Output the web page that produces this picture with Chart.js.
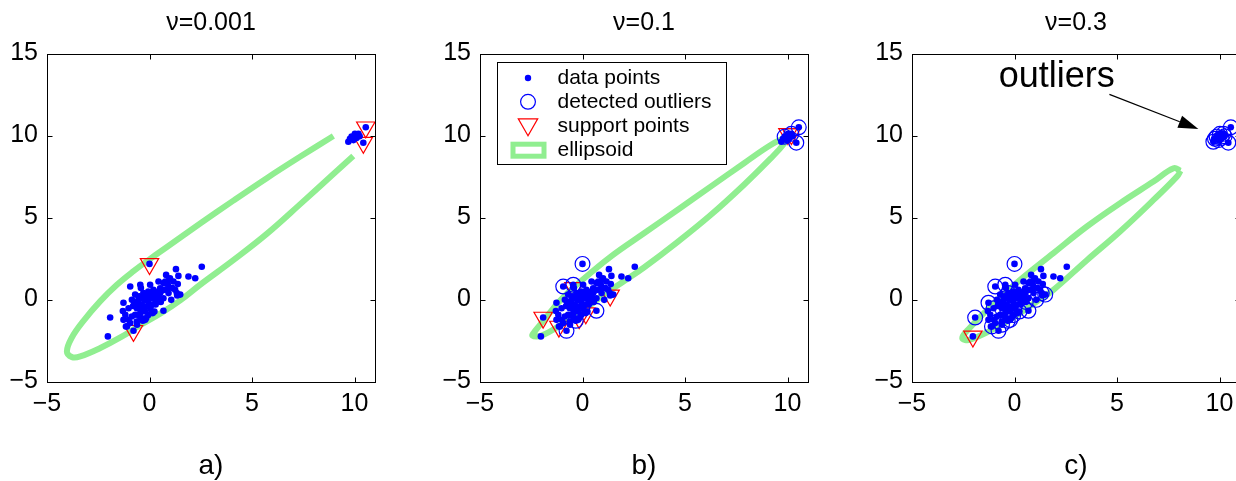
<!DOCTYPE html>
<html><head><meta charset="utf-8">
<script src="https://cdn.jsdelivr.net/npm/chart.js@4"></script>
<style>
html,body{margin:0;padding:0;background:#fff;overflow:hidden;width:1236px;height:481px;position:relative;}
canvas{position:absolute;top:0;}
</style></head><body>
<canvas id="ca" width="420" height="481" style="left:1px"></canvas>
<canvas id="cb" width="420" height="481" style="left:433.5px"></canvas>
<canvas id="cc" width="420" height="481" style="left:866px"></canvas>
<script>
// ---- texts / ticks ----
const panelTitles = ['ν=0.001', 'ν=0.1', 'ν=0.3'];
const panelLabels = ['a)', 'b)', 'c)'];
const xTicks = [-5, 0, 5, 10];
const yTicks = [-5, 0, 5, 10, 15];
const xTickLabels = ['−5', '0', '5', '10'];
const yTickLabels = ['−5', '0', '5', '10', '15'];
const xRange = [-5, 11];
const yRange = [-5, 15];
const legendLabels = ['data points', 'detected outliers', 'support points', 'ellipsoid'];
const annotationText = 'outliers';
const annotationTextPos = [2.06, 12.94];
const annotationArrow = [[4.63, 12.51], [8.97, 10.4]];

// ---- data points (same sample in every panel) ----
const dataX = [0.0, 2.55, 1.29, 1.9, 2.23, 1.41, 0.81, 0.96, 0.68, 0.89, 1.38, 1.12, 1.33, 0.77, 0.52, 1.06, 0.68, 0.24, -0.94, -0.45,
  0.03, -1.92, -2.03, -0.78, -0.7, -0.86, -0.54, -0.3, -0.06, 0.19, -0.22, 0.03, 0.27, 0.43, -0.37, -0.13, 0.11, -0.62, -1.02, -1.18,
  -1.02, -0.86, -0.7, -0.45, -0.22, -0.06, -0.94, -0.62, -0.37, -1.27, -1.1, 0.77, 0.44, 0.52, 0.93, 0.68, 1.17, 1.25, -1.27, -0.61,
  -0.21, 1.5, -0.33, -0.16, 0.16, -1.15, -0.42, 1.35, -0.5, -0.15, 0.1, -0.35, -0.6, -0.25, 0.3, 0.55, 0.2, -0.8, 0.62, 0.95,
  -0.05, -0.5, 0.35, -1.3, 1.0, -0.4, 0.05, -0.75, 0.45, -0.1,
  9.7, 9.78, 9.86, 9.95, 10.02, 10.1, 10.19, 10.25, 10.55, 10.43];
const dataY = [2.17, 2.0, 1.85, 1.4, 1.3, 1.44, 1.5, 1.2, 1.0, 0.93, 0.94, 0.7, 0.39, 0.6, 0.69, -0.02, -0.69, -0.73, 0.79, 0.9,
  0.9, -1.1, -2.25, -1.91, 0.3, -0.02, -0.02, 0.39, 0.49, 0.59, -0.02, 0.08, -0.02, 0.18, -0.33, -0.43, -0.33, -0.53, -0.53, -0.93,
  -1.24, -1.04, -0.93, -0.83, -0.73, -0.95, -1.44, -1.34, -1.14, -1.24, -1.64, 1.1, 1.1, 0.39, 0.39, 0.08, 1.1, 0.59, -0.2, -1.54,
  -1.24, 0.3, -1.3, -1.13, -0.83, -1.65, 0.7, 0.25, 0.2, 0.25, 0.3, 0.05, -0.25, -0.5, -0.3, -0.15, 0.15, -0.4, 0.55, 0.75,
  -0.2, -1.0, 0.45, -0.7, 1.3, -0.6, -0.6, -0.15, 0.0, 0.1,
  9.62, 9.8, 9.93, 9.72, 10.1, 9.85, 10.1, 9.95, 10.5, 9.56];

// ---- panel a ----
const supportAX = [0.0, -0.78, 10.55, 10.43];
const supportAY = [2.17, -1.91, 10.5, 9.56];
const ellipseAX = [8.97, 7.34, 5.72, 4.09, 2.47, 0.85, 0.0, -0.78, -1.59, -2.4, -3.22, -3.78, -4.03, -3.78, -3.38, -2.4, -1.4, -0.5, 0.6, 1.5, 2.47, 4.09, 5.72, 7.34, 8.97, 9.94];
const ellipseAY = [9.97, 8.7, 7.4, 6.03, 4.63, 3.2, 2.45, 1.73, 0.9, -0.1, -1.3, -2.3, -3.17, -3.51, -3.47, -2.96, -2.3, -1.6, -0.8, -0.05, 0.9, 2.4, 4.0, 5.8, 7.65, 8.75];

// ---- panel b ----
const outlierBX = [0.0, -0.94, -0.45, 0.68, -0.33, -0.78, 9.86, 10.55, 10.43, 10.19];
const outlierBY = [2.17, 0.79, 0.9, -0.69, -1.3, -1.91, 9.93, 10.5, 9.56, 10.1];
const supportBX = [-1.92, -1.15, -0.42, -0.16, 0.16, 1.35, 10.02, 10.19];
const supportBY = [-1.1, -1.65, 0.7, -1.13, -0.83, 0.25, 10.1, 10.1];
const ellipseBX = [9.99, 9.18, 7.88, 6.25, 4.63, 3.0, 1.38, 0.0, -1.06, -1.87, -2.3, -2.44, -2.0, -1.06, 0.0, 0.89, 2.0, 3.0, 4.63, 6.25, 7.88, 9.18, 9.83, 9.99];
const ellipseBY = [9.93, 9.42, 8.31, 6.88, 5.46, 4.04, 2.62, 1.2, -0.02, -1.24, -1.9, -2.2, -2.2, -1.55, -0.7, 0.15, 1.1, 1.95, 3.5, 5.15, 7.0, 8.6, 9.5, 9.93];

// ---- panel c ----
const outlierCX = [0.0, -1.92, -0.78, -1.1, -0.94, -0.45, -1.27, -1.02, 1.33, 1.5, 1.06, 0.68, 0.24, -0.21, -0.61, -0.33, -0.62, -0.3, 0.55, -0.06,
  9.7, 9.78, 9.86, 9.95, 10.02, 10.1, 10.19, 10.25, 10.55, 10.43];
const outlierCY = [2.17, -1.1, -1.91, -1.64, 0.79, 0.9, -0.2, -0.53, 0.39, 0.3, -0.02, -0.69, -0.73, -1.24, -1.54, -1.3, -0.53, 0.39, -0.15, -0.95,
  9.62, 9.8, 9.93, 9.72, 10.1, 9.85, 10.1, 9.95, 10.5, 9.56];
const supportCX = [-2.03];
const supportCY = [-2.25];
const ellipseCX = [8.1, 7.76, 6.78, 5.15, 3.53, 1.9, 0.28, -1.33, -2.2, -2.55, -2.16, -0.52, 1.09, 1.9, 3.53, 5.15, 6.78, 7.92, 8.1];
const ellipseCY = [7.85, 8.0, 7.19, 5.87, 4.45, 2.83, 1.2, -0.63, -1.75, -2.35, -2.45, -1.44, -0.12, 0.59, 2.4, 4.15, 6.07, 7.49, 7.85];

// ---- helpers ----
const FONT = "'Liberation Sans', Arial, sans-serif";
const BLUE = '#0000ff', RED = '#ff0000', GREEN = 'rgb(144,238,144)';
const pts = (xs, ys) => xs.map((x, i) => ({x: x, y: ys[i]}));

const framePlugin = {
  id: 'frame',
  afterDatasetsDraw(chart) {
    const {ctx, chartArea: a, scales: {x, y}} = chart;
    const L = Math.round(a.left) + 0.5, R = Math.round(a.right) + 0.5;
    const T = Math.round(a.top) + 0.5, B = Math.round(a.bottom) + 0.5;
    ctx.save();
    ctx.strokeStyle = '#000';
    ctx.lineWidth = 1;
    ctx.strokeRect(L, T, R - L, B - T);
    const tl = 5;
    ctx.beginPath();
    xTicks.forEach(v => {
      const p = Math.round(x.getPixelForValue(v)) + 0.5;
      ctx.moveTo(p, B); ctx.lineTo(p, B - tl);
      ctx.moveTo(p, T); ctx.lineTo(p, T + tl);
    });
    yTicks.forEach(v => {
      const p = Math.round(y.getPixelForValue(v)) + 0.5;
      ctx.moveTo(L, p); ctx.lineTo(L + tl, p);
      ctx.moveTo(R, p); ctx.lineTo(R - tl, p);
    });
    ctx.stroke();
    ctx.restore();
  }
};

const legendPlugin = {
  id: 'boxLegend',
  afterDraw(chart, args, opts) {
    if (!opts.show) return;
    const {ctx, chartArea: a} = chart;
    const bl = Math.round(a.left + 16.7) + 0.5, bt = Math.round(a.top + 8.5) + 0.5;
    const bw = 229, bh = 102;
    ctx.save();
    ctx.fillStyle = '#fff';
    ctx.fillRect(bl, bt, bw, bh);
    ctx.strokeStyle = '#000';
    ctx.lineWidth = 1;
    ctx.strokeRect(bl, bt, bw, bh);
    const mx = bl + 30.5;
    const rows = [15.5, 39.3, 63.5, 87.7];
    // dot
    ctx.fillStyle = BLUE;
    ctx.beginPath(); ctx.arc(mx, bt + rows[0], 3.2, 0, Math.PI * 2); ctx.fill();
    // circle
    ctx.strokeStyle = BLUE; ctx.lineWidth = 1.2;
    ctx.beginPath(); ctx.arc(mx, bt + rows[1], 7.4, 0, Math.PI * 2); ctx.stroke();
    // triangle
    const r = 11.2, cy = bt + rows[2] - 1.5;
    ctx.strokeStyle = RED;
    ctx.beginPath();
    ctx.moveTo(mx, cy + r);
    ctx.lineTo(mx - r * Math.sqrt(3) / 2, cy - r / 2);
    ctx.lineTo(mx + r * Math.sqrt(3) / 2, cy - r / 2);
    ctx.closePath(); ctx.stroke();
    // ellipsoid swatch
    ctx.strokeStyle = GREEN; ctx.lineWidth = 5;
    ctx.strokeRect(mx - 15, bt + rows[3] - 6, 31, 12);
    // texts
    ctx.fillStyle = '#000';
    ctx.font = '21px ' + FONT;
    ctx.textBaseline = 'middle';
    ctx.textAlign = 'left';
    legendLabels.forEach((t, i) => ctx.fillText(t, bl + 60, bt + rows[i] + 0.5));
    ctx.restore();
  }
};

const annotationPlugin = {
  id: 'arrowNote',
  afterDraw(chart, args, opts) {
    if (!opts.show) return;
    const {ctx, scales: {x, y}} = chart;
    ctx.save();
    ctx.fillStyle = '#000';
    ctx.font = '36px ' + FONT;
    ctx.textAlign = 'center';
    ctx.textBaseline = 'alphabetic';
    ctx.fillText(annotationText, x.getPixelForValue(annotationTextPos[0]), y.getPixelForValue(annotationTextPos[1]));
    const x1 = x.getPixelForValue(annotationArrow[0][0]), y1 = y.getPixelForValue(annotationArrow[0][1]);
    const x2 = x.getPixelForValue(annotationArrow[1][0]), y2 = y.getPixelForValue(annotationArrow[1][1]);
    const ang = Math.atan2(y2 - y1, x2 - x1);
    const hl = 20, hw = 6.5;
    const bx = x2 - hl * Math.cos(ang), by = y2 - hl * Math.sin(ang);
    ctx.strokeStyle = '#000'; ctx.lineWidth = 1.2;
    ctx.beginPath(); ctx.moveTo(x1, y1); ctx.lineTo(bx, by); ctx.stroke();
    ctx.beginPath();
    ctx.moveTo(x2, y2);
    ctx.lineTo(bx + hw * Math.sin(ang), by - hw * Math.cos(ang));
    ctx.lineTo(bx - hw * Math.sin(ang), by + hw * Math.cos(ang));
    ctx.closePath(); ctx.fill();
    ctx.restore();
  }
};

function makeChart(id, idx, circles, supports, ellipse, showLegend, showNote) {
  const datasets = [
    {label: 'data points', data: pts(dataX, dataY), pointRadius: 3.3, pointBackgroundColor: BLUE, pointBorderWidth: 0, showLine: false, clip: false}
  ];
  if (circles) datasets.push({label: 'detected outliers', data: pts(circles[0], circles[1]), pointStyle: 'circle', pointRadius: 7.4,
    pointBackgroundColor: 'rgba(0,0,0,0)', pointBorderColor: BLUE, pointBorderWidth: 1.2, showLine: false, clip: false});
  datasets.push({label: 'support points', data: pts(supports[0], supports[1]), pointStyle: 'triangle', rotation: 180, pointRadius: 10.6,
    pointBackgroundColor: 'rgba(0,0,0,0)', pointBorderColor: RED, pointBorderWidth: 1.2, showLine: false, clip: false});
  datasets.push({label: 'ellipsoid', data: pts(ellipse[0], ellipse[1]), showLine: true, pointRadius: 0, borderColor: GREEN,
    borderWidth: 6, tension: 0.4, fill: false, borderCapStyle: 'butt'});

  return new Chart(document.getElementById(id), {
    type: 'scatter',
    data: {datasets: datasets},
    options: {
      responsive: false,
      animation: false,
      events: [],
      layout: {padding: {left: 0, right: 46, top: 0, bottom: 0}},
      plugins: {
        legend: {display: false},
        tooltip: {enabled: false},
        title: {display: true, fullSize: false, text: panelTitles[idx], color: '#000',
          font: {family: FONT, size: 25, weight: 'normal'}, padding: {top: 8, bottom: 15.5}},
        boxLegend: {show: showLegend},
        arrowNote: {show: showNote}
      },
      scales: {
        x: {
          type: 'linear', min: xRange[0], max: xRange[1],
          grid: {display: false, drawTicks: false},
          border: {display: false},
          afterBuildTicks: s => { s.ticks = xTicks.map(v => ({value: v})); },
          afterFit: s => { s.height = 99.5; },
          ticks: {color: '#000', font: {family: FONT, size: 25}, padding: 8, maxRotation: 0,
            callback: v => xTickLabels[xTicks.indexOf(v)]},
          title: {display: true, text: panelLabels[idx], color: '#000', font: {family: FONT, size: 28}, padding: {top: 0, bottom: -2}}
        },
        y: {
          type: 'linear', min: yRange[0], max: yRange[1],
          grid: {display: false, drawTicks: false},
          border: {display: false},
          afterBuildTicks: s => { s.ticks = yTicks.map(v => ({value: v})); },
          afterFit: s => { s.width = 46; },
          ticks: {color: '#000', font: {family: FONT, size: 25}, padding: 9,
            callback: v => yTickLabels[yTicks.indexOf(v)]}
        }
      }
    },
    plugins: [framePlugin, legendPlugin, annotationPlugin]
  });
}

makeChart('ca', 0, null, [supportAX, supportAY], [ellipseAX, ellipseAY], false, false);
makeChart('cb', 1, [outlierBX, outlierBY], [supportBX, supportBY], [ellipseBX, ellipseBY], true, false);
makeChart('cc', 2, [outlierCX, outlierCY], [supportCX, supportCY], [ellipseCX, ellipseCY], false, true);
</script>
</body></html>
